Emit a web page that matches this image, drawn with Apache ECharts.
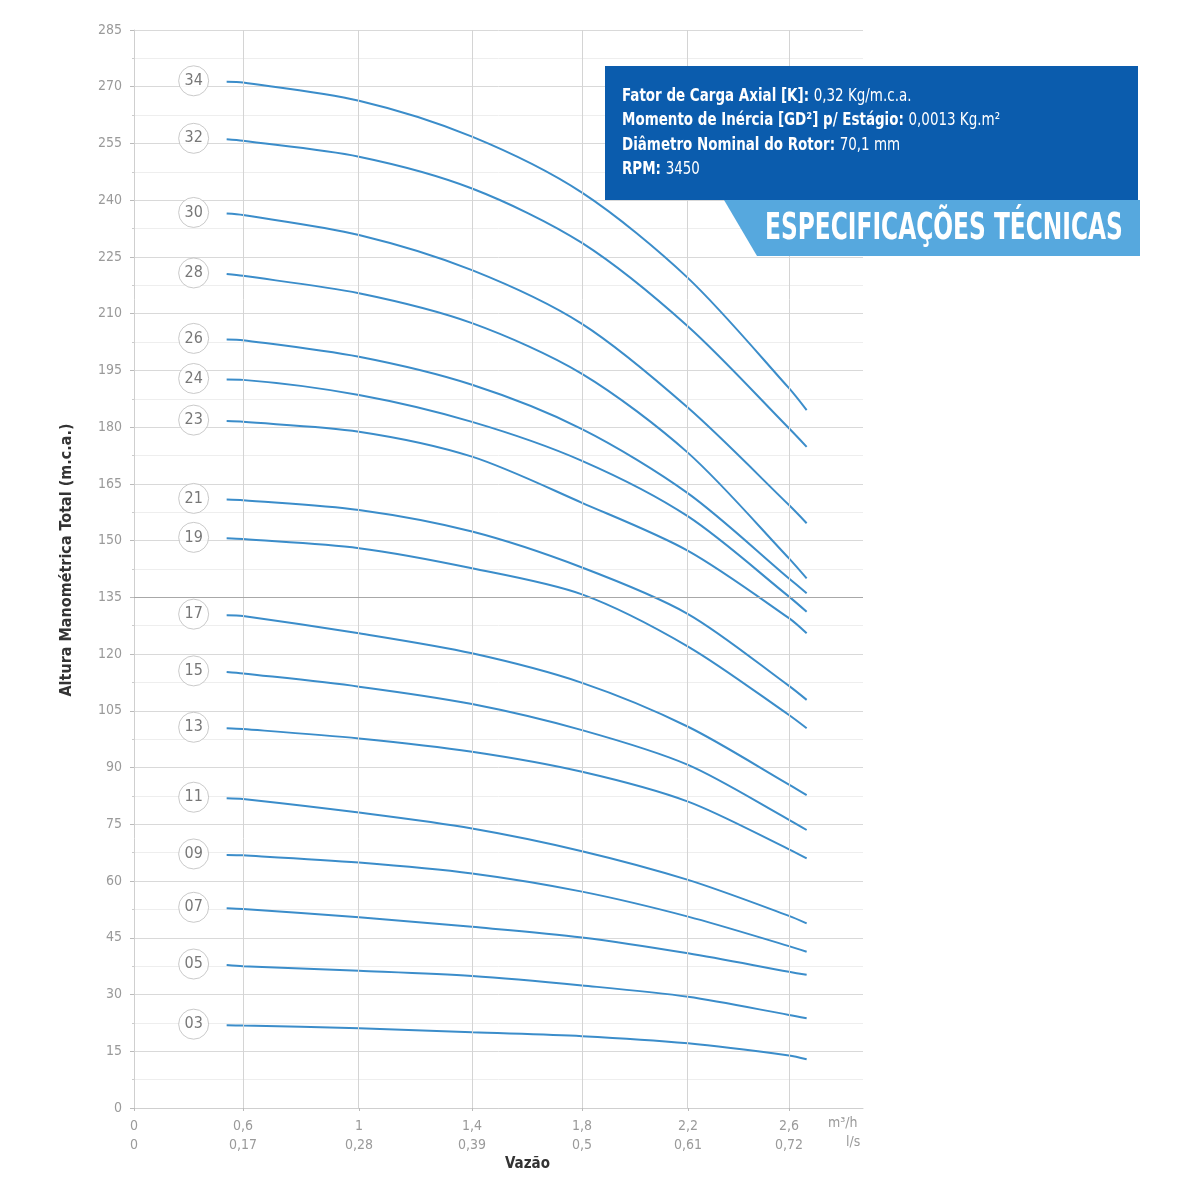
<!DOCTYPE html>
<html>
<head>
<meta charset="utf-8">
<script src="https://cdn.jsdelivr.net/npm/echarts@6/dist/echarts.min.js"></script>
<style>
  html, body { margin: 0; padding: 0; background: #fff; }
  #chart { width: 1200px; height: 1200px; }
</style>
</head>
<body>
<div id="chart"></div>
<script>
// x axis: vazão in m3/h and l/s
const flowTicks = [0, 0.6, 1, 1.4, 1.8, 2.2, 2.6];
const flowLabels = ['0', '0,6', '1', '1,4', '1,8', '2,2', '2,6'];
const lpsLabels = ['0', '0,17', '0,28', '0,39', '0,5', '0,61', '0,72'];

// the chart spaces its flow ticks unevenly, so each tick gets its own spot on the axis
const tickAt = [0, 1, 2.064, 3.101, 4.110, 5.083, 6.009];
const xMax = 6.688;

// flow points read for every curve (m3/h)
const flow = [0.51, 0.6, 1.0, 1.4, 1.8, 2.2, 2.6, 2.67];

// altura manométrica (m.c.a.) per number of stages
const h34 = [271.3, 271.1, 266.3, 256.8, 242.0, 219.4, 190.3, 184.5];
const h32 = [256.1, 255.7, 251.5, 243.1, 228.7, 206.6, 179.7, 174.8];
const h30 = [236.5, 236.1, 230.8, 221.5, 207.3, 185.1, 159.4, 154.6];
const h28 = [220.5, 220.0, 215.4, 207.5, 194.1, 173.2, 145.3, 140.0];
const h26 = [203.2, 203.0, 198.6, 191.2, 179.5, 162.5, 140.0, 136.1];
const h24 = [192.6, 192.5, 188.5, 181.4, 171.1, 156.4, 135.2, 131.2];
const h23 = [181.6, 181.4, 178.8, 172.2, 160.0, 147.3, 129.5, 125.5];
const h21 = [160.9, 160.7, 158.1, 152.4, 142.9, 130.6, 111.6, 107.9];
const h19 = [150.6, 150.4, 148.0, 142.7, 135.8, 122.0, 103.9, 100.4];
const h17 = [130.3, 130.1, 125.5, 120.2, 112.4, 100.8, 85.5, 82.7];
const h15 = [115.3, 114.9, 111.4, 106.8, 99.9, 90.7, 76.2, 73.5];
const h13 = [100.4, 100.2, 97.7, 94.2, 88.9, 81.0, 68.4, 66.0];
const h11 = [81.9, 81.7, 78.1, 73.9, 67.9, 60.3, 50.8, 48.8];
const h09 = [66.9, 66.8, 64.9, 62.0, 57.2, 50.6, 42.8, 41.3];
const h07 = [52.8, 52.6, 50.4, 47.9, 45.1, 40.9, 36.0, 35.2];
const h05 = [37.8, 37.5, 36.3, 34.9, 32.4, 29.4, 24.6, 23.7];
const h03 = [21.9, 21.8, 21.1, 20.0, 19.0, 17.1, 13.9, 12.9];

const curves = [
  ['34', h34], ['32', h32], ['30', h30], ['28', h28], ['26', h26], ['24', h24],
  ['23', h23], ['21', h21], ['19', h19], ['17', h17], ['15', h15], ['13', h13],
  ['11', h11], ['09', h09], ['07', h07], ['05', h05], ['03', h03]
];

const specs = [
  ['Fator de Carga Axial [K]: ', '0,32 Kg/m.c.a.'],
  ['Momento de Inércia [GD²] p/ Estágio: ', '0,0013 Kg.m²'],
  ['Diâmetro Nominal do Rotor: ', '70,1 mm'],
  ['RPM: ', '3450']
];

const narrow = '"DejaVu Sans Condensed", sans-serif';
const lineColor = '#3b8dca';

// place a flow value on the uneven axis
function flowToPos(f) {
  let i = 0;
  while (i < flowTicks.length - 2 && f > flowTicks[i + 1]) i++;
  const t = (f - flowTicks[i]) / (flowTicks[i + 1] - flowTicks[i]);
  return tickAt[i] + t * (tickAt[i + 1] - tickAt[i]);
}

function tickIndex(v) {
  return tickAt.findIndex(p => Math.abs(p - v) < 1e-6);
}

var chart = echarts.init(document.getElementById('chart'));

const series = [];

// vertical grid lines + the darker 135 line
series.push({
  type: 'line',
  data: [],
  silent: true,
  z: 1,
  markLine: {
    silent: true,
    symbol: 'none',
    label: { show: false },
    animation: false,
    lineStyle: { color: '#d4d4d4', width: 1, type: 'solid' },
    data: tickAt.slice(1).map(v => ({ xAxis: v })).concat([
      { xAxis: xMax },
      { yAxis: 135, lineStyle: { color: '#a8a8a8', width: 1.2, type: 'solid' } }
    ])
  }
});

curves.forEach(([name, heads]) => {
  series.push({
    name: name,
    type: 'line',
    smooth: 0.3,
    showSymbol: false,
    z: 3,
    lineStyle: { color: lineColor, width: 2 },
    data: flow.map((f, i) => [flowToPos(f), heads[i]])
  });
});

// stage tags in circles, left of each curve start
series.push({
  type: 'scatter',
  z: 4,
  symbol: 'circle',
  symbolSize: 30,
  symbolOffset: [-33, -1],
  itemStyle: { color: '#fff', borderColor: '#bdbdbd', borderWidth: 1 },
  label: {
    show: true,
    position: 'inside',
    formatter: p => p.name,
    color: '#555',
    fontSize: 16,
    fontFamily: narrow
  },
  data: curves.map(([name, heads]) => ({ name: name, value: [flowToPos(flow[0]), heads[0]] }))
});

option = {
  animation: false,
  backgroundColor: '#fff',
  grid: { left: 134, right: 337, top: 30, bottom: 92 },
  xAxis: {
    type: 'value',
    min: 0,
    max: xMax,
    axisLine: { show: true, lineStyle: { color: '#cfcfcf' } },
    splitLine: { show: false },
    axisTick: {
      show: true,
      customValues: tickAt,
      length: 3,
      lineStyle: { color: '#bbb' }
    },
    axisLabel: {
      customValues: tickAt,
      margin: 9,
      color: '#9a9a9a',
      fontSize: 14,
      lineHeight: 19,
      fontFamily: narrow,
      formatter: function (v) {
        const i = tickIndex(v);
        return i < 0 ? '' : flowLabels[i] + '\n' + lpsLabels[i];
      }
    }
  },
  yAxis: {
    type: 'value',
    min: 0,
    max: 285,
    interval: 15,
    minorTick: { show: true, splitNumber: 2, length: 2, lineStyle: { color: '#ccc' } },
    minorSplitLine: { show: true, lineStyle: { color: '#eeeeee' } },
    splitLine: { show: true, lineStyle: { color: '#d9d9d9' } },
    axisLine: { show: true, lineStyle: { color: '#cfcfcf' } },
    axisTick: { show: true, length: 4, lineStyle: { color: '#bbb' } },
    axisLabel: { color: '#9a9a9a', fontSize: 14, margin: 12, fontFamily: narrow }
  },
  graphic: [
    // axis titles and units
    {
      type: 'text',
      x: 67,
      y: 560,
      rotation: Math.PI / 2,
      style: {
        text: 'Altura Manométrica Total (m.c.a.)',
        fill: '#333',
        font: 'bold 16px ' + narrow,
        align: 'center',
        verticalAlign: 'middle'
      }
    },
    { type: 'text', left: 828, top: 1116, style: { text: 'm³/h', fill: '#9a9a9a', font: '14px ' + narrow } },
    { type: 'text', left: 846, top: 1135, style: { text: 'l/s', fill: '#9a9a9a', font: '14px ' + narrow } },
    { type: 'text', left: 505, top: 1157, style: { text: 'Vazão', fill: '#333', font: 'bold 15px ' + narrow } },
    // specification panel
    {
      type: 'rect',
      z: 10,
      shape: { x: 605, y: 66, width: 533, height: 134 },
      style: { fill: '#0b5cad' }
    },
    {
      type: 'polygon',
      z: 10,
      shape: { points: [[724, 200], [1140, 200], [1140, 256], [757, 256]] },
      style: { fill: '#56a8de' }
    },
    {
      type: 'text',
      z: 11,
      x: 622,
      y: 84,
      scaleX: 0.88,
      style: {
        text: specs.map(s => '{b|' + s[0] + '}{n|' + s[1] + '}').join('\n'),
        rich: {
          b: { fill: '#fff', fontSize: 17, fontWeight: 'bold', fontFamily: narrow, lineHeight: 24.5 },
          n: { fill: '#fff', fontSize: 17, fontFamily: narrow, lineHeight: 24.5 }
        }
      }
    },
    {
      type: 'text',
      z: 11,
      x: 765,
      y: 229,
      scaleX: 0.7,
      style: {
        text: 'ESPECIFICAÇÕES TÉCNICAS',
        fill: '#fff',
        font: 'bold 37px ' + narrow,
        verticalAlign: 'middle'
      }
    }
  ],
  series: series
};

chart.setOption(option);
</script>
</body>
</html>
